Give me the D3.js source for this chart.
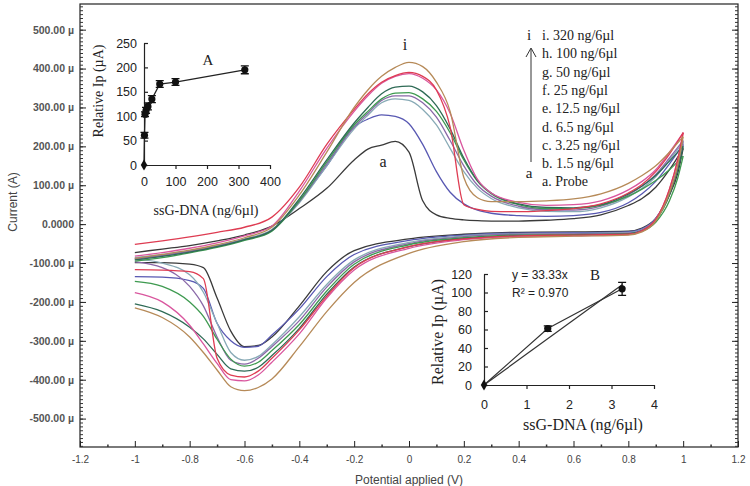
<!DOCTYPE html>
<html><head><meta charset="utf-8">
<script src="https://cdn.jsdelivr.net/npm/d3@7"></script>
<style>body{margin:0;background:#fff}svg{display:block}</style>
</head><body><svg id="chart" width="750" height="486"></svg>
<script>
// ---------------- DATA ----------------
const potentialsAnodic = [-1.0,-0.9,-0.8,-0.7,-0.6,-0.5,-0.4,-0.3,-0.2,-0.15,-0.1,-0.05,0.0,0.05,0.1,0.15,0.2,0.25,0.3,0.4,0.5,0.6,0.7,0.8,0.85,0.9,0.95,1.0];
const potentialsCathodic = [-1.0,-0.9,-0.8,-0.75,-0.7,-0.65,-0.6,-0.55,-0.5,-0.4,-0.3,-0.2,0.0,0.2,0.4,0.6,0.8,0.85,0.9,0.95,0.98,1.0];
const curveKeys = ['a','b','c','d','e','f','g','h','i'];

// anodic (forward) currents, µA
const anodic_a = [-73,-64,-55,-43,-28,-5,40,92,165,193,203,213,185,60,24,15,11,9,8,8,10,14,24,48,66,95,140,195];
const anodic_b = [-88,-80,-70,-57,-40,-15,60,150,250,270,281,277,258,205,135,82,52,36,28,22,20,22,30,55,78,110,155,205];
const anodic_c = [-86,-78,-68,-55,-38,-14,55,150,245,280,312,322,318,295,255,195,135,92,66,42,33,32,42,70,92,122,165,210];
const anodic_d = [-90,-81,-70,-57,-40,-16,58,155,250,285,318,330,330,312,275,215,150,100,72,46,37,36,46,75,98,128,170,215];
const anodic_e = [-95,-86,-74,-60,-42,-18,60,160,255,290,322,337,338,322,290,235,165,110,78,50,40,40,48,72,90,112,140,175];
const anodic_f = [-92,-83,-72,-58,-40,-16,65,165,260,300,335,352,355,340,305,245,170,112,80,52,43,42,50,78,98,125,162,200];
const anodic_g = [-82,-73,-62,-48,-30,-5,85,195,290,330,362,380,387,375,345,285,190,115,80,56,48,50,60,88,110,140,185,235];
const anodic_h = [-52,-43,-33,-21,-8,18,95,205,295,335,365,382,390,380,345,250,50,38,33,32,35,40,52,80,102,135,180,235];
const anodic_i = [-88,-78,-67,-53,-35,-8,75,185,300,345,380,403,416,405,365,290,120,68,58,58,60,65,78,105,125,150,185,225];

// cathodic (reverse) currents, µA
const cathodic_a = [-99,-99,-103,-112,-190,-275,-315,-312,-290,-210,-122,-68,-38,-26,-21,-20,-18,-10,15,75,130,195];
const cathodic_b = [-135,-136,-145,-165,-255,-300,-317,-314,-285,-218,-135,-78,-42,-28,-23,-22,-20,-12,15,80,140,205];
const cathodic_c = [-90,-100,-130,-175,-255,-330,-350,-340,-310,-238,-155,-92,-47,-30,-25,-24,-22,-14,12,80,145,210];
const cathodic_d = [-97,-112,-160,-210,-290,-350,-360,-345,-315,-248,-162,-97,-50,-32,-26,-25,-23,-15,12,82,150,215];
const cathodic_e = [-147,-160,-200,-237,-296,-347,-365,-355,-325,-258,-172,-103,-53,-35,-28,-27,-25,-18,5,60,118,175];
const cathodic_f = [-205,-225,-265,-295,-335,-372,-378,-368,-338,-268,-180,-110,-58,-37,-30,-28,-25,-17,10,75,140,200];
const cathodic_g = [-176,-200,-260,-308,-358,-400,-403,-388,-355,-282,-190,-118,-62,-40,-32,-30,-27,-18,12,90,165,235];
const cathodic_h = [-117,-118,-122,-140,-345,-388,-393,-378,-345,-272,-185,-112,-58,-38,-30,-28,-26,-17,12,90,165,235];
const cathodic_i = [-215,-240,-290,-330,-375,-418,-428,-420,-398,-315,-225,-150,-75,-45,-34,-31,-28,-20,8,80,150,225];

const legendLabels = ['i. 320 ng/6µl','h. 100 ng/6µl','g. 50 ng/6µl','f. 25 ng/6µl','e. 12.5 ng/6µl','d. 6.5 ng/6µl','c. 3.25 ng/6µl','b. 1.5 ng/6µl','a. Probe'];
const yTickValues = [500,400,300,200,100,0,-100,-200,-300,-400,-500];
const xTickValues = [-1.2,-1,-0.8,-0.6,-0.4,-0.2,0,0.2,0.4,0.6,0.8,1,1.2];

const insetAConc = [0,1.5,3.25,6.5,12.5,25,50,100,320];
const insetAIp   = [0,61,104,112,120,135,166,170,195];
const insetAErr  = [0,6,5,6,7,7,7,7,8];
const insetAXTicks = [0,100,200,300,400];
const insetAYTicks = [0,50,100,150,200,250];

const insetBConc = [0,1.5,3.25];
const insetBIp   = [0,61,104];
const insetBErr  = [0,3,7];
const insetBXTicks = [0,1,2,3,4];
const insetBYTicks = [0,20,40,60,80,100,120];
const fitSlope = 33.33;
const fitR2 = '0.970';

// ---------------- STYLE ----------------
const curveColors = {a:'#3a3a3a',b:'#5858b2',c:'#88aab6',d:'#8a68a8',e:'#3e9a50',f:'#2f6b56',g:'#d9569e',h:'#de3c52',i:'#b68a58'};
const anodic = {a:anodic_a,b:anodic_b,c:anodic_c,d:anodic_d,e:anodic_e,f:anodic_f,g:anodic_g,h:anodic_h,i:anodic_i};
const cathodic = {a:cathodic_a,b:cathodic_b,c:cathodic_c,d:cathodic_d,e:cathodic_e,f:cathodic_f,g:cathodic_g,h:cathodic_h,i:cathodic_i};

const svg = d3.select('#chart');
const sans = 'Arial, "Liberation Sans", sans-serif';
const serif = '"Times New Roman", "Liberation Serif", serif';

// ---------------- MAIN PLOT ----------------
const x = d3.scaleLinear().domain([-1.2,1.2]).range([80,738]);
const y = d3.scaleLinear().domain([-573,566]).range([447,4]);

const fmtY = d => d === 0 ? '0.0000' : (d < 0 ? '-' : '') + Math.abs(d).toFixed(2) + ' µ';
const fmtX = d => { const v = Math.round(d*10)/10; return (v === 0 ? 0 : v).toString(); };

svg.append('rect').attr('x',80).attr('y',4).attr('width',658).attr('height',443)
  .attr('fill','none').attr('stroke','#222').attr('stroke-width',1.2);

const minorY = d3.range(-570, 566, 10);
svg.append('g').attr('transform','translate(80,0)')
  .call(d3.axisLeft(y).tickValues(minorY).tickSize(-3).tickFormat(''))
  .call(g=>g.select('.domain').remove()).selectAll('line').attr('stroke','#333');
const gl = svg.append('g').attr('transform','translate(80,0)')
  .call(d3.axisLeft(y).tickValues(yTickValues).tickSize(-6).tickPadding(6).tickFormat(fmtY));
gl.select('.domain').remove();
gl.selectAll('line').attr('stroke','#222');
gl.selectAll('text').attr('font-family',sans).attr('font-size',10.5).attr('fill','#555').attr('font-weight','bold');
svg.append('g').attr('transform','translate(738,0)')
  .call(d3.axisRight(y).tickValues(minorY).tickSize(-3).tickFormat(''))
  .call(g=>g.select('.domain').remove()).selectAll('line').attr('stroke','#333');
svg.append('g').attr('transform','translate(738,0)')
  .call(d3.axisRight(y).tickValues(yTickValues).tickSize(-6).tickFormat(''))
  .call(g=>g.select('.domain').remove()).selectAll('line').attr('stroke','#222');
svg.append('g').attr('transform','translate(0,447)')
  .call(d3.axisBottom(x).tickValues(d3.range(-11,12,2).map(v=>v/10)).tickSize(-2.5).tickFormat(''))
  .call(g=>g.select('.domain').remove()).selectAll('line').attr('stroke','#333').attr('stroke-width',1.5);
const gb = svg.append('g').attr('transform','translate(0,447)')
  .call(d3.axisBottom(x).tickValues(xTickValues).tickSize(-6).tickPadding(9).tickFormat(fmtX));
gb.select('.domain').remove();
gb.selectAll('line').attr('stroke','#222');
gb.selectAll('text').attr('font-family',sans).attr('font-size',10).attr('fill','#444');

svg.append('text').attr('x',409).attr('y',484).attr('text-anchor','middle')
  .attr('font-family',sans).attr('font-size',12).attr('fill','#444').text('Potential applied (V)');
svg.append('text').attr('transform','translate(17,202) rotate(-90)').attr('text-anchor','middle')
  .attr('font-family',sans).attr('font-size',12).attr('fill','#444').text('Current (A)');

const line = d3.line().x(d=>x(d[0])).y(d=>y(d[1])).curve(d3.curveMonotoneX);
const gc = svg.append('g');
curveKeys.forEach(k => {
  const an = potentialsAnodic.map((e,j)=>[e, anodic[k][j]]);
  const ca = potentialsCathodic.map((e,j)=>[e, cathodic[k][j]]);
  [an, ca].forEach(pts => gc.append('path').attr('d', line(pts))
     .attr('fill','none').attr('stroke', curveColors[k]).attr('stroke-width',1.3));
});

svg.append('text').attr('x',405).attr('y',50).attr('text-anchor','middle')
  .attr('font-family',serif).attr('font-size',16).attr('fill','#222').text('i');
svg.append('text').attr('x',383).attr('y',167).attr('text-anchor','middle')
  .attr('font-family',serif).attr('font-size',16).attr('fill','#222').text('a');

const lg = svg.append('g');
legendLabels.forEach((t,j) => lg.append('text').attr('x',542).attr('y',40 + j*18.3)
  .attr('font-family',serif).attr('font-size',14).attr('fill','#222').text(t));
lg.append('line').attr('x1',531).attr('x2',531).attr('y1',162).attr('y2',49).attr('stroke','#333').attr('stroke-width',1);
lg.append('path').attr('d','M526,57 L531,48 L536,57').attr('fill','none').attr('stroke','#333').attr('stroke-width',1);
lg.append('text').attr('x',529).attr('y',40).attr('text-anchor','middle')
  .attr('font-family',serif).attr('font-size',15).attr('fill','#222').text('i');
lg.append('text').attr('x',529).attr('y',178).attr('text-anchor','middle')
  .attr('font-family',serif).attr('font-size',15).attr('fill','#222').text('a');

function inset(cfg){
  const g = svg.append('g');
  const xs = d3.scaleLinear().domain(cfg.xDom).range(cfg.xRange);
  const ys = d3.scaleLinear().domain(cfg.yDom).range(cfg.yRange);
  const ax = g.append('g').attr('transform',`translate(0,${cfg.yRange[0]})`)
    .call(d3.axisBottom(xs).tickValues(cfg.xTicks).tickSize(4).tickSizeOuter(0).tickPadding(cfg.xPad).tickFormat(d3.format('d')));
  const ay = g.append('g').attr('transform',`translate(${cfg.xRange[0]},0)`)
    .call(d3.axisLeft(ys).tickValues(cfg.yTicks).tickSize(-4).tickSizeOuter(0).tickPadding(cfg.yPad).tickFormat(d3.format('d')));
  [ax,ay].forEach(a=>{
    a.selectAll('path,line').attr('stroke','#222').attr('stroke-width',1.2);
    a.selectAll('text').attr('font-family',sans).attr('font-size',12.5).attr('fill','#222');
  });
  return {g,xs,ys};
}

const A = inset({xDom:[0,400],xRange:[144,270],yDom:[0,250],yRange:[165,43],xTicks:insetAXTicks,yTicks:insetAYTicks,xPad:8,yPad:7});
A.g.append('path').attr('d', d3.line().x((d,j)=>A.xs(insetAConc[j])).y(d=>A.ys(d))(insetAIp))
  .attr('fill','none').attr('stroke','#222').attr('stroke-width',1.3);
insetAConc.forEach((c,j)=>{
  if (insetAErr[j] > 0){
    const cx = A.xs(c), t = A.ys(insetAIp[j]+insetAErr[j]), b = A.ys(insetAIp[j]-insetAErr[j]);
    A.g.append('path').attr('d',`M${cx},${t}V${b}M${cx-4},${t}H${cx+4}M${cx-4},${b}H${cx+4}`)
      .attr('stroke','#111').attr('stroke-width',1.3).attr('fill','none');
  }
  if (c === 0) A.g.append('path').attr('d',d3.symbol(d3.symbolDiamond).size(36)())
    .attr('transform',`translate(${A.xs(c)},${A.ys(insetAIp[j])})`).attr('fill','#111');
  else A.g.append('circle').attr('cx',A.xs(c)).attr('cy',A.ys(insetAIp[j])).attr('r',3.6).attr('fill','#111');
});
A.g.append('text').attr('x',208).attr('y',65).attr('text-anchor','middle').attr('font-family',serif).attr('font-size',15).attr('fill','#222').text('A');
A.g.append('text').attr('transform','translate(103,91) rotate(-90)').attr('text-anchor','middle')
  .attr('font-family',serif).attr('font-size',14).attr('fill','#222').text('Relative Ip (µA)');
A.g.append('text').attr('x',206).attr('y',215).attr('text-anchor','middle')
  .attr('font-family',serif).attr('font-size',14).attr('fill','#222').text('ssG-DNA (ng/6µl)');

const B = inset({xDom:[0,4],xRange:[484,654],yDom:[0,120],yRange:[385,274],xTicks:insetBXTicks,yTicks:insetBYTicks,xPad:11,yPad:12});
B.g.append('path').attr('d', d3.line().x((d,j)=>B.xs(insetBConc[j])).y(d=>B.ys(d))(insetBIp))
  .attr('fill','none').attr('stroke','#333').attr('stroke-width',1.2);
const xFitEnd = insetBConc[insetBConc.length-1];
B.g.append('line').attr('x1',B.xs(0)).attr('y1',B.ys(0)).attr('x2',B.xs(xFitEnd)).attr('y2',B.ys(fitSlope*xFitEnd))
  .attr('stroke','#333').attr('stroke-width',1.2);
insetBConc.forEach((c,j)=>{
  if (insetBErr[j] > 0){
    const cx = B.xs(c), t = B.ys(insetBIp[j]+insetBErr[j]), b = B.ys(insetBIp[j]-insetBErr[j]);
    B.g.append('path').attr('d',`M${cx},${t}V${b}M${cx-4},${t}H${cx+4}M${cx-4},${b}H${cx+4}`)
      .attr('stroke','#111').attr('stroke-width',1.3).attr('fill','none');
  }
  if (c === 0) B.g.append('path').attr('d',d3.symbol(d3.symbolDiamond).size(36)())
    .attr('transform',`translate(${B.xs(c)},${B.ys(insetBIp[j])})`).attr('fill','#111');
  else B.g.append('circle').attr('cx',B.xs(c)).attr('cy',B.ys(insetBIp[j])).attr('r',3.6).attr('fill','#111');
});
B.g.append('text').attr('x',512).attr('y',279).attr('font-family',sans).attr('font-size',12).attr('fill','#222').text('y = ' + fitSlope + 'x');
B.g.append('text').attr('x',512).attr('y',297).attr('font-family',sans).attr('font-size',12).attr('fill','#222').text('R² = ' + fitR2);
B.g.append('text').attr('x',595).attr('y',280).attr('text-anchor','middle').attr('font-family',serif).attr('font-size',15).attr('fill','#222').text('B');
B.g.append('text').attr('transform','translate(443,332) rotate(-90)').attr('text-anchor','middle')
  .attr('font-family',serif).attr('font-size',16).attr('fill','#222').text('Relative Ip (µA)');
B.g.append('text').attr('x',583).attr('y',430).attr('text-anchor','middle')
  .attr('font-family',serif).attr('font-size',16).attr('fill','#222').text('ssG-DNA (ng/6µl)');
</script></body></html>
